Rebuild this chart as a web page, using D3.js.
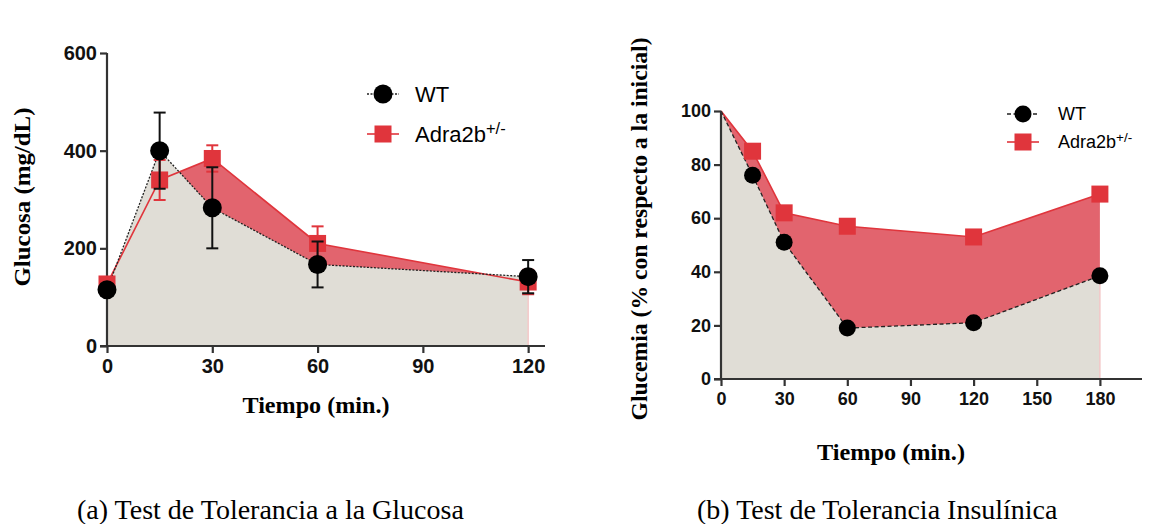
<!DOCTYPE html>
<html>
<head>
<meta charset="utf-8">
<script src="https://cdn.jsdelivr.net/npm/d3@7"></script>
<style>
  body { margin: 0; background: #fff; }
  svg { display: block; }
  .tick text { font-family: "Liberation Sans", Arial, sans-serif; font-weight: bold; }
</style>
</head>
<body>
<svg id="chart" width="1157" height="524"></svg>
<script>
// (a) Test de Tolerancia a la Glucosa
var gttTime = [0, 15, 30, 60, 120];
var gttWT = [115, 400, 283, 167, 142];
var gttWTErr = [0, 78, 83, 47, 34];
var gttKO = [127, 340, 384, 210, 131];
var gttKOErr = [0, 41, 27, 35, 25];
var gttYTicks = [0, 200, 400, 600];
var gttXTicks = [0, 30, 60, 90, 120];

// (b) Test de Tolerancia Insulínica
var ittTime = [0, 15, 30, 60, 120, 180];
var ittWT = [100, 76, 51, 19, 21, 38.5];
var ittKO = [100, 85, 62, 57, 53, 69];
var ittYTicks = [0, 20, 40, 60, 80, 100];
var ittXTicks = [0, 30, 60, 90, 120, 150, 180];

var greyFill = "#e0ddd6";
var redFill = "#e2646e";
var redLine = "#e0353c";
var axisCol = "#333";

var svg = d3.select("#chart");

// 1つのパネルを描画する
function drawPanel(o) {
	var g = svg.append("g");
	var x = d3.scaleLinear().domain(o.xDomain).range(o.xRange);
	var y = d3.scaleLinear().domain(o.yDomain).range(o.yRange);

	var wt = o.time.map(function(t, i){ return {t: t, v: o.wt[i], e: o.wtErr ? o.wtErr[i] : 0}; });
	var ko = o.time.map(function(t, i){ return {t: t, v: o.ko[i], e: o.koErr ? o.koErr[i] : 0}; });

	var area = d3.area().x(function(d){ return x(d.t); }).y0(y(0)).y1(function(d){ return y(d.v); });
	var line = d3.line().x(function(d){ return x(d.t); }).y(function(d){ return y(d.v); });

	// 赤い面（Adra2b）、その上に灰色の面（WT）
	g.append("path").datum(ko).attr("d", area).attr("fill", redFill);
	g.append("path").datum(wt).attr("d", area).attr("fill", greyFill);
	var last = o.time[o.time.length - 1];
	g.append("line")
		.attr("x1", x(last)).attr("x2", x(last))
		.attr("y1", y(0)).attr("y2", y(Math.min(o.wt[o.wt.length-1], o.ko[o.ko.length-1])))
		.attr("stroke", "#f3c9c9").attr("stroke-width", 1.5);

	// 線
	g.append("path").datum(ko).attr("d", line).attr("fill", "none")
		.attr("stroke", redLine).attr("stroke-width", 1.6);
	g.append("path").datum(wt).attr("d", line).attr("fill", "none")
		.attr("stroke", "#222").attr("stroke-width", 1.3).attr("stroke-dasharray", o.dash);

	// 軸
	var xa = g.append("g").attr("transform", "translate(0," + y(0) + ")")
		.call(d3.axisBottom(x).tickValues(o.xTicks).tickSize(7).tickPadding(6));
	var ya = g.append("g").attr("transform", "translate(" + x(0) + ",0)")
		.call(d3.axisLeft(y).tickValues(o.yTicks).tickSize(7).tickPadding(3));
	[xa, ya].forEach(function(a){
		a.select(".domain").attr("stroke", axisCol).attr("stroke-width", 2.2);
		a.selectAll(".tick line").attr("stroke", axisCol).attr("stroke-width", 2.2);
		a.selectAll(".tick text").attr("fill", "#111").style("font-size", o.tickFont + "px");
	});
	ya.select(".domain").attr("d", "M0," + y(o.yDomain[1]) + "V" + y(0));
	xa.select(".domain").attr("d", "M" + (x(0) - 7) + ",0H" + o.xRange[1]);

	// エラーバー
	function errBars(data, col) {
		var eb = g.append("g").selectAll("g").data(data.filter(function(d){ return d.e > 0; })).enter().append("g");
		eb.append("line")
			.attr("x1", function(d){ return x(d.t); }).attr("x2", function(d){ return x(d.t); })
			.attr("y1", function(d){ return y(d.v - d.e); }).attr("y2", function(d){ return y(d.v + d.e); })
			.attr("stroke", col).attr("stroke-width", 2);
		[-1, 1].forEach(function(s){
			eb.append("line")
				.attr("x1", function(d){ return x(d.t) - 6; }).attr("x2", function(d){ return x(d.t) + 6; })
				.attr("y1", function(d){ return y(d.v + s * d.e); }).attr("y2", function(d){ return y(d.v + s * d.e); })
				.attr("stroke", col).attr("stroke-width", 2);
		});
	}
	if (o.koErr) errBars(ko, redLine);

	// マーカー
	g.append("g").selectAll("rect").data(ko).enter().append("rect")
		.attr("x", function(d){ return x(d.t) - o.sq / 2; })
		.attr("y", function(d){ return y(d.v) - o.sq / 2; })
		.attr("width", o.sq).attr("height", o.sq)
		.attr("fill", redLine)
		.style("display", function(d){ return d.t === 0 && !o.showZero ? "none" : null; });
	if (o.wtErr) errBars(wt, "#111");
	g.append("g").selectAll("circle").data(wt).enter().append("circle")
		.attr("cx", function(d){ return x(d.t); })
		.attr("cy", function(d){ return y(d.v); })
		.attr("r", o.r).attr("fill", "#000")
		.style("display", function(d){ return d.t === 0 && !o.showZero ? "none" : null; });

	// 軸ラベル
	g.append("text")
		.attr("x", o.xLabel[0]).attr("y", o.xLabel[1])
		.attr("text-anchor", "middle")
		.attr("textLength", o.xLabel[2]).attr("lengthAdjust", "spacingAndGlyphs")
		.style("font-family", "'Liberation Serif', 'Times New Roman', serif")
		.style("font-weight", "bold").style("font-size", o.labelFont + "px")
		.text("Tiempo (min.)");
	g.append("text")
		.attr("transform", "translate(" + o.yLabel[0] + "," + o.yLabel[1] + ") rotate(-90)")
		.attr("text-anchor", "middle")
		.attr("textLength", o.yLabel[2]).attr("lengthAdjust", "spacingAndGlyphs")
		.style("font-family", "'Liberation Serif', 'Times New Roman', serif")
		.style("font-weight", "bold").style("font-size", o.labelFont + "px")
		.text(o.yTitle);

	// 凡例
	var lg = g.append("g").attr("transform", "translate(" + o.legend[0] + "," + o.legend[1] + ")");
	lg.append("line").attr("x1", -16).attr("x2", 16).attr("y1", 0).attr("y2", 0)
		.attr("stroke", "#222").attr("stroke-width", 1.3).attr("stroke-dasharray", o.dash);
	lg.append("circle").attr("r", o.r).attr("fill", "#000");
	lg.append("line").attr("x1", -16).attr("x2", 16).attr("y1", o.legendGap).attr("y2", o.legendGap)
		.attr("stroke", redLine).attr("stroke-width", 1.6);
	lg.append("rect").attr("x", -o.sq / 2).attr("y", o.legendGap - o.sq / 2)
		.attr("width", o.sq).attr("height", o.sq).attr("fill", redLine);
	lg.append("text").attr("x", o.legendText).attr("y", 0).attr("dy", "0.35em")
		.style("font-family", "'Liberation Sans', Arial, sans-serif")
		.style("font-size", o.legendFont + "px").text("WT");
	var t2 = lg.append("text").attr("x", o.legendText).attr("y", o.legendGap).attr("dy", "0.35em")
		.style("font-family", "'Liberation Sans', Arial, sans-serif")
		.style("font-size", o.legendFont + "px");
	t2.append("tspan").text("Adra2b");
	t2.append("tspan").attr("dy", "-0.45em").style("font-size", (o.legendFont * 0.75) + "px").text("+/-");

	// キャプション
	svg.append("text")
		.attr("x", o.caption[0]).attr("y", o.caption[1])
		.style("font-family", "'Liberation Serif', 'Times New Roman', serif")
		.style("font-size", "28px")
		.text(o.captionText);
}

drawPanel({
	time: gttTime, wt: gttWT, wtErr: gttWTErr, ko: gttKO, koErr: gttKOErr,
	xDomain: [0, 124.8], xRange: [107, 545], yDomain: [0, 600], yRange: [346, 53],
	xTicks: gttXTicks, yTicks: gttYTicks, dash: "2,1.5", r: 9.5, sq: 17, showZero: true,
	tickFont: 20, labelFont: 24,
	xLabel: [316, 413, 147], yLabel: [30, 197, 179], yTitle: "Glucosa (mg/dL)",
	legend: [383, 94], legendGap: 40, legendText: 32, legendFont: 22,
	caption: [77, 519], captionText: "(a) Test de Tolerancia a la Glucosa"
});

drawPanel({
	time: ittTime, wt: ittWT, ko: ittKO,
	xDomain: [0, 200], xRange: [721, 1142], yDomain: [0, 100], yRange: [379, 111],
	xTicks: ittXTicks, yTicks: ittYTicks, dash: "4,2.5", r: 8.5, sq: 17, showZero: false,
	tickFont: 18, labelFont: 24,
	xLabel: [891, 460, 148], yLabel: [647, 229, 383], yTitle: "Glucemia (% con respecto a la inicial)",
	legend: [1023, 114], legendGap: 28, legendText: 35, legendFont: 18,
	caption: [697, 519], captionText: "(b) Test de Tolerancia Insulínica"
});
</script>
</body>
</html>
